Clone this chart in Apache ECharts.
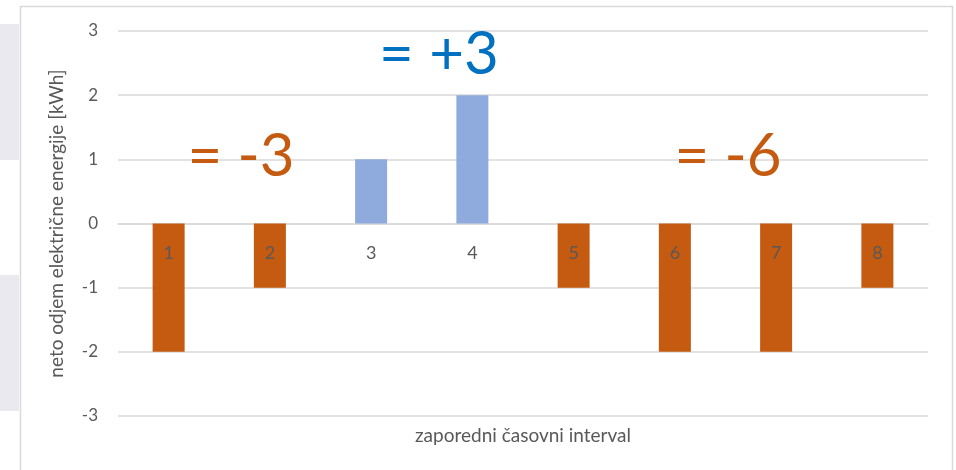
<!DOCTYPE html>
<html>
<head>
<meta charset="utf-8">
<script src="https://cdn.jsdelivr.net/npm/echarts@6/dist/echarts.min.js"></script>
<style>
  html, body { margin: 0; padding: 0; background: #ffffff; }
  #chart { width: 956px; height: 470px; }
</style>
</head>
<body>
<div id="chart"></div>
<script>
// Time intervals and net electricity consumption per interval (kWh)
const categories = ['1', '2', '3', '4', '5', '6', '7', '8'];
const netEnergy = [-2, -1, 1, 2, -1, -2, -2, -1];
const yTicks = [-3, -2, -1, 0, 1, 2, 3];

// Interval groups whose totals are written above the bars (start, end index)
const groupRanges = [[0, 1], [2, 3], [4, 7]];

const ORANGE = '#c55a11';
const BLUE = '#8faadc';
const TEXT_BLUE = '#0070c0';
const GREY_TEXT = '#595959';
const FONT = 'Lato, "Noto Sans", sans-serif';

function groupTotal(range) {
  let s = 0;
  for (let i = range[0]; i <= range[1]; i++) s += netEnergy[i];
  return s;
}
function fmtTotal(v) {
  return '= ' + (v > 0 ? '+' + v : String(v));
}
const totals = groupRanges.map(groupTotal);

const chart = echarts.init(document.getElementById('chart'), null, { renderer: 'canvas' });

// Category names sit just under the zero line, drawn over the bars
const catLabel = {
  show: true,
  color: GREY_TEXT,
  fontSize: 18,
  fontFamily: FONT,
  distance: 21,
  formatter: p => categories[p.dataIndex]
};

const option = {
  animation: false,
  backgroundColor: '#ffffff',
  textStyle: { fontFamily: FONT },
  grid: { left: 118, right: 28, top: 31, bottom: 54 },
  xAxis: {
    type: 'category',
    data: categories,
    axisLine: { show: true, onZero: true, lineStyle: { color: '#d9d9d9', width: 1.5 } },
    axisTick: { show: false },
    axisLabel: { show: false }
  },
  yAxis: {
    type: 'value',
    min: yTicks[0],
    max: yTicks[yTicks.length - 1],
    interval: 1,
    axisLine: { show: false },
    axisTick: { show: false },
    splitLine: { lineStyle: { color: '#d9d9d9', width: 1.5 } },
    axisLabel: { color: GREY_TEXT, fontSize: 17, margin: 20, fontFamily: FONT },
    name: 'neto odjem električne energije [kWh]',
    nameLocation: 'middle',
    nameGap: 52,
    nameTextStyle: { color: GREY_TEXT, fontSize: 19, fontFamily: FONT }
  },
  series: [{
    type: 'bar',
    data: netEnergy.map(v => ({
      value: v,
      itemStyle: { color: v < 0 ? ORANGE : BLUE },
      label: Object.assign({}, catLabel, {
        position: v < 0 ? 'insideTop' : 'bottom'
      })
    })),
    barWidth: 32
  }],
  graphic: [
    // window edge panels
    { type: 'rect', left: 0, top: 24, shape: { width: 19, height: 136 }, style: { fill: '#e9e9ef' }, silent: true },
    { type: 'rect', left: 0, top: 275, shape: { width: 19, height: 136 }, style: { fill: '#e9e9ef' }, silent: true },
    // chart frame
    { type: 'rect', shape: { x: 20.5, y: 6.5, width: 932, height: 480 }, style: { fill: 'none', stroke: '#d9d9d9', lineWidth: 1.5 }, silent: true, z: 100 },
    // horizontal axis title
    { type: 'text', x: 523, y: 436, style: { text: 'zaporedni časovni interval', fill: GREY_TEXT, font: '19px ' + FONT, align: 'center', verticalAlign: 'middle' }, z: 100 },
    // group totals
    { type: 'text', x: 241, y: 157, style: { text: fmtTotal(totals[0]), fill: ORANGE, font: '60px ' + FONT, align: 'center', verticalAlign: 'middle' }, z: 100 },
    { type: 'text', x: 439, y: 55, style: { text: fmtTotal(totals[1]), fill: TEXT_BLUE, font: '60px ' + FONT, align: 'center', verticalAlign: 'middle' }, z: 100 },
    { type: 'text', x: 728, y: 157, style: { text: fmtTotal(totals[2]), fill: ORANGE, font: '60px ' + FONT, align: 'center', verticalAlign: 'middle' }, z: 100 }
  ]
};

chart.setOption(option);
</script>
</body>
</html>
